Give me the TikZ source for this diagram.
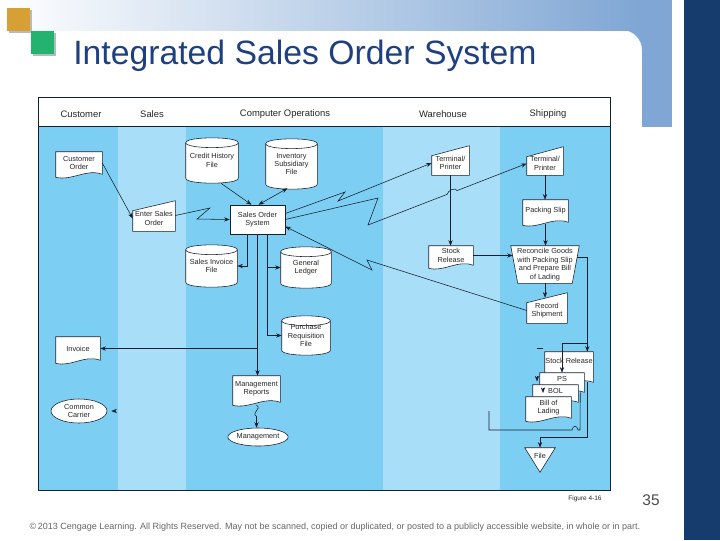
\documentclass[tikz,border=0pt]{standalone}
\usepackage{fontspec}
\setmainfont{Liberation Sans}
\usepackage{tikz}
\usetikzlibrary{positioning, arrows.meta, shapes.geometric, calc}

\pgfdeclarelayer{back}
\pgfdeclarelayer{mid}
\pgfsetlayers{back,mid,main}

\definecolor{laneA}{RGB}{124,206,242}
\definecolor{laneB}{RGB}{168,222,247}
\definecolor{topblue}{RGB}{127,166,212}
\definecolor{navy}{RGB}{22,59,109}
\definecolor{titleblue}{RGB}{31,64,128}
\definecolor{sqorange}{RGB}{214,160,52}
\definecolor{sqgreen}{RGB}{36,178,112}
\definecolor{ink}{RGB}{22,32,48}

\tikzset{
x=0.025cm, y=-0.025cm, % one unit is one pixel of the slide, y runs down
>={Stealth[length=4pt,width=3pt]}, % small solid arrow heads
every node/.style={font=\fontsize{5.2}{6}\selectfont, align=center, inner sep=0pt, text=black!85},
sz/.style 2 args={minimum width=#1*0.025cm, minimum height=#2*0.025cm}, % size in pixels
rect/.style={draw=ink, fill=white}, % process box
oval/.style={ellipse, draw=ink, fill=white}, % terminal
lane/.style={font=\fontsize{6.7}{8}\selectfont}, % lane heading
}

% outlines, drawn behind the node text
\newcommand{\docout}[2][0]{% document, #1 = extra depth
\begin{pgfonlayer}{mid}
\draw[ink, fill=white] (#2.north west) -- (#2.north east) -- ($(#2.south east)+(0,#1)$)
 .. controls ($(#2.south east)!0.35!(#2.south west)+(0,#1-6)$) and ($(#2.south east)!0.65!(#2.south west)+(0,#1+7)$) .. ($(#2.south west)+(0,#1+3)$) -- cycle;
\end{pgfonlayer}}
\newcommand{\inout}[1]{% manual input / terminal
\begin{pgfonlayer}{mid}
\draw[ink, fill=white] (#1.south west) -- (#1.south east) -- ($(#1.north east)+(0,-5)$) -- ($(#1.north west)+(0,5)$) -- cycle;
\end{pgfonlayer}}
\newcommand{\diskout}[1]{% disk file
\begin{pgfonlayer}{mid}
\draw[ink, fill=white] (#1.north west) -- (#1.south west) .. controls ($(#1.south west)+(0,6.5)$) and ($(#1.south east)+(0,6.5)$) .. (#1.south east)
 -- (#1.north east) .. controls ($(#1.north east)+(0,-6.5)$) and ($(#1.north west)+(0,-6.5)$) .. (#1.north west) -- cycle;
\draw[ink] (#1.north west) .. controls ($(#1.north west)+(0,6.5)$) and ($(#1.north east)+(0,6.5)$) .. (#1.north east);
\end{pgfonlayer}}
\newcommand{\opout}[1]{% manual operation
\begin{pgfonlayer}{mid}
\draw[ink, fill=white] (#1.north west) -- (#1.north east) -- ($(#1.south east)+(-7,0)$) -- ($(#1.south west)+(7,0)$) -- cycle;
\end{pgfonlayer}}
\newcommand{\fileout}[1]{% off-line file
\begin{pgfonlayer}{mid}
\draw[ink, fill=white] (#1.north west) -- (#1.north east) -- ($(#1.south)+(0,8)$) -- cycle;
\end{pgfonlayer}}

\begin{document}
\begin{tikzpicture}[line width=0.6pt]
\useasboundingbox (0,0) rectangle (720,540);

\begin{pgfonlayer}{back}
\fill[white] (0,0) rectangle (720,540);
\shade[left color=white, right color=topblue] (0,0) rectangle (642,30);
\fill[topblue] (642,0) rectangle (672,127);
\fill[topblue] (622,30) -- (642,30) -- (642,50) .. controls (642,39) and (633,30) .. (622,30) -- cycle;
\fill[navy] (684,0) rectangle (720,540);
\fill[gray!55] (9,10) rectangle (32,33);
\fill[sqorange] (7,8) rectangle (30,31);
\fill[gray!55] (33,33) rectangle (56,56);
\fill[sqgreen] (31,31) rectangle (54,54);
% swim lanes
\fill[laneA] (38,126) rectangle (118,490);
\fill[laneB] (118,126) rectangle (186,490);
\fill[laneA] (186,126) rectangle (383,490);
\fill[laneB] (383,126) rectangle (500,490);
\fill[laneA] (500,126) rectangle (610,490);
\draw[ink] (38,97) rectangle (610,490);
\draw[ink] (38,126) -- (610,126);
\end{pgfonlayer}

\node[anchor=base west, font=\fontsize{24}{28}\selectfont, text=titleblue] (title) at (73,64) {Integrated Sales Order System};

\node[lane] (lcust) at (81,114) {Customer};
\node[lane] (lsales) at (152,114) {Sales};
\node[lane] (lops) at (285,114) {Computer Operations};
\node[lane] (lware) at (443,114) {Warehouse};
\node[lane] (lship) at (548,114) {Shipping};

% customer, sales and computer operations
\node[sz={46}{22}] (cord) at (79,163) {Customer\\Order};
\node[sz={42}{25}] (eso) at (154,218.5) {Enter Sales\\Order};
\node[sz={52}{35}] (chf) at (212,160.5) {Credit History\\File};
\node[sz={51}{40}] (isf) at (291.5,164) {Inventory\\Subsidiary\\File};
\node[rect, sz={55}{29}] (sos) at (257.5,219.5) {Sales Order\\System};
\node[sz={51}{32}] (sif) at (211.5,266) {Sales Invoice\\File};
\node[sz={50}{31}] (gl) at (306,267.5) {General\\Ledger};
\node[sz={48}{29}] (prf) at (306,335.5) {Purchase\\Requisition\\File};
\node[sz={44}{23}] (inv) at (78,348.5) {Invoice};
\node[sz={47}{26}] (mr) at (256.5,389) {Management\\Reports};
\node[oval, sz={56}{18}] (mgmt) at (258,437) {Management};
\node[oval, sz={56}{24}] (cc) at (79,411) {Common\\Carrier};

% warehouse and shipping
\node[sz={37}{24}] (twh) at (450.5,163) {Terminal/\\Printer};
\node[sz={36}{23}] (tsh) at (545,163.5) {Terminal/\\Printer};
\node[sz={44}{19}] (srw) at (451,255.5) {Stock\\Release};
\node[sz={45}{22}] (ps) at (545.5,211) {Packing Slip};
\node[sz={68}{37}] (rec) at (545,264.5) {Reconcile Goods\\with Packing Slip\\and Prepare Bill\\of Lading};
\node[sz={40}{25}] (rs) at (547,310.5) {Record\\Shipment};
\node[sz={48}{18}] (srs) at (569,361) {Stock Release};
\node[sz={44}{11}] (pss) at (562,378.5) {PS};
\node[sz={45}{11}] (bol) at (555.5,390.5) {BOL};
\node[sz={45}{21}] (bl) at (548.5,407.5) {Bill of\\Lading};
\node[sz={30}{16}] (file) at (540,456) {File};

\docout{cord} \inout{eso} \diskout{chf} \diskout{isf} \diskout{sif} \diskout{gl} \diskout{prf}
\docout{inv} \docout{mr} \inout{twh} \inout{tsh} \docout{srw} \docout{ps} \opout{rec} \inout{rs}
\docout[12]{srs} \docout[8]{pss} \docout[6]{bol} \docout{bl} \fileout{file}

\begin{scope}[ink]
\draw[->] (cord.east) -- (eso.west);
\draw[->] ($(eso.east)+(0,-3)$) -- (210,208) -- (197,219) -- (sos.west);
\draw[->] ($(chf.south)+(9,5)$) -- ($(sos.north)+(-6,0)$);
\draw[<->] ($(sos.north)+(1,0)$) -- ($(isf.south)+(-4,4)$);
\draw[->] ($(sos.south)+(-10,0)$) |- (sif.east);
\draw[->] ($(sos.south)+(10,0)$) |- (gl.west);
\draw[->] ($(sos.south)+(10,0)$) |- (prf.west);
\draw[->] (sos.south) -- (sos.south |- mr.north);
\draw[->] (sos.south |- inv.east) -- (inv.east);
\draw[->] ($(mr.south)+(0,3)$) .. controls +(6,3) and +(-6,-3) .. ($(mr.south)+(0,14)$) -- (mr.south |- mgmt.north);
\draw[->] ($(cc.east)+(9,0)$) -- ($(cc.east)+(4,0)$);

% communication links
\draw[->] ($(sos.east)+(0,-6)$) -- (345,192) -- (338,201) -- (twh.west);
\draw[->] (sos.east) -- (378,198) -- (368,225) -- (447,194.4) .. controls (448,190) and (456,187) .. (457,190.6) -- (tsh.west);
\draw[->] (rs.west) -- (367,260) -- (372,270) -- ($(sos.east)+(0,7)$);

\draw[->] (twh.south) -- (twh.south |- srw.north);
\draw[->] (srw.east) -- ($(srw.east -| rec.west)+(2,0)$);
\draw[->] (tsh.south) -- (tsh.south |- ps.north);
\draw[->] ($(ps.south)+(0,2)$) -- (ps.south |- rec.north);
\draw[->] (rec.south) -- (rec.south |- rs.north);
\draw[->] ($(rec.north east)!0.3!(rec.south east)+(-2,0)$) -| ($(srs.north east)+(-6,0)$);
\draw[->] ($(srs.north east)+(-6,-8)$) -| (pss.north);
\coordinate (loose) at (489,411);
\draw (loose) -- (489,430) -- (572,430) .. controls (573,425) and (577,425) .. (578,430) -- (580,430) -- ($(pss.south east)+(-4,8)$);
\draw[->] ($(srs.south east)+(-6,12)$) -- ++(0,55) -| (file.north);
\draw (537,348) -- (543,348);
\draw[->] (537,376) -- (537,381.5);
\draw[->] (543,388) -- (543,393);
\end{scope}

\node[font=\fontsize{4.6}{5}\selectfont] (fig) at (585,499) {Figure 4-16};
\node[font=\fontsize{11}{12}\selectfont, text=black!70] (pg) at (651,500) {35};
\node[font=\fontsize{6.4}{7}\selectfont, text=black!60] (copy) at (335,527) {\textcopyright\,2013 Cengage Learning. All Rights Reserved. May not be scanned, copied or duplicated, or posted to a publicly accessible website, in whole or in part.};
\end{tikzpicture}
\end{document}
